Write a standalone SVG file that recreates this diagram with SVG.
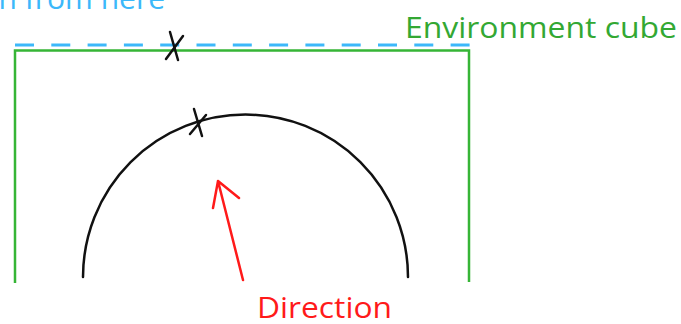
<svg xmlns="http://www.w3.org/2000/svg" width="681" height="324" viewBox="0 0 681 324">
<style>
  text { font-family: "Open Sans", "Noto Sans", sans-serif; font-size: 30px; }
  .green { fill: none; stroke: #36b536; stroke-width: 2.5; }
  .blue { fill: none; stroke: #3cb8fa; stroke-width: 3; stroke-dasharray: 19 17.3; }
  .ink { fill: none; stroke: #111; stroke-width: 2.5; stroke-linecap: round; }
  .red { fill: none; stroke: #ff1a1a; stroke-width: 2.5; stroke-linecap: round; stroke-linejoin: round; }
</style>
<rect width="681" height="324" fill="#fff"/>
<g id="viewpoint">
  <line class="blue" x1="15" y1="45" x2="473" y2="45"/>
  <text x="165" y="9" text-anchor="end" fill="#3cb8fa">n from here</text>
</g>
<g id="cube">
  <path class="green" d="M15,283 V50.5 H469 V282"/>
  <text x="405" y="38" fill="#33a833" textLength="272" lengthAdjust="spacingAndGlyphs">Environment cube</text>
</g>
<g id="hemisphere">
  <path class="ink" d="M83,277 A162.5,162.5 0 0 1 408,277"/>
</g>
<g id="marks">
  <line class="ink" x1="170" y1="32" x2="178" y2="60"/>
  <line class="ink" x1="166" y1="59" x2="183" y2="36"/>
  <line class="ink" x1="194" y1="109" x2="202" y2="136"/>
  <line class="ink" x1="190" y1="134" x2="206" y2="115"/>
</g>
<g id="connectors">
  <path class="red" d="M243,280 L218,181 M213,208 L218,181 L239,198"/>
</g>
<g id="direction">
  <text x="257" y="318" fill="#ff1a1a" textLength="135" lengthAdjust="spacingAndGlyphs">Direction</text>
</g>
</svg>
